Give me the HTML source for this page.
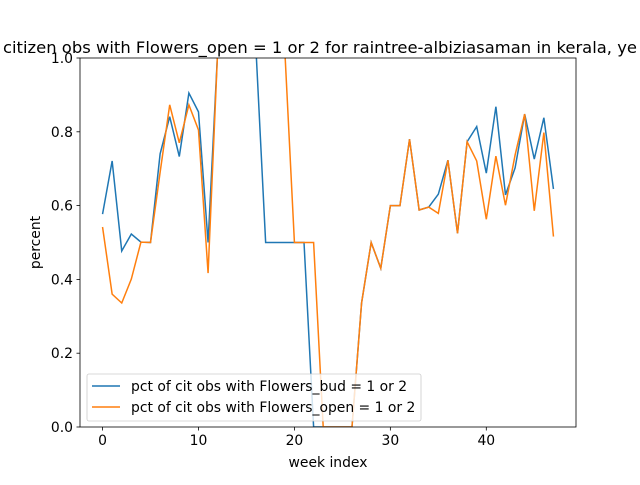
<!DOCTYPE html>
<html><head><meta charset="utf-8"><style>
body{margin:0;background:#fff;}
svg{font-family:"DejaVu Sans","Liberation Sans",sans-serif;}
</style></head><body>
<svg id="chart" width="640" height="480" viewBox="0 0 640 480">
<rect width="640" height="480" fill="#fff"/>
<text x="3" y="53" font-size="16" textLength="634" lengthAdjust="spacingAndGlyphs">citizen obs with Flowers_open = 1 or 2 for raintree-albiziasaman in kerala, ye</text>
<g id="plot"></g>
</svg>
<script>
const weeks = Array.from({length:48},(_, i)=>i);
const budPct = [0.577,0.721,0.477,0.523,0.501,0.5,0.74,0.841,0.733,0.905,0.854,0.5,1.02,1.2,1.2,1.2,1.02,0.5,0.5,0.5,0.5,0.5,0,0,0,0,0,0.336,0.5,0.43,0.6,0.6,0.78,0.588,0.596,0.631,0.723,0.525,0.773,0.814,0.688,0.868,0.629,0.702,0.848,0.726,0.838,0.645];
const openPct = [0.542,0.36,0.336,0.401,0.501,0.5,0.69,0.873,0.77,0.873,0.805,0.417,1.02,1.2,1.2,1.2,1.2,1.2,1.2,1.02,0.5,0.5,0.5,0,0,0,0,0.336,0.5,0.43,0.6,0.6,0.78,0.588,0.596,0.579,0.723,0.525,0.773,0.721,0.563,0.734,0.601,0.737,0.848,0.586,0.798,0.516];
const xTicks = [0,10,20,30,40];
const yTicks = [0,0.2,0.4,0.6,0.8,1.0];
const yTickLabels = ["0.0","0.2","0.4","0.6","0.8","1.0"];

const L=80,R=576,T=58,B=427, xMin=-2.35, xMax=49.35;
const xs=v=>L+(v-xMin)/(xMax-xMin)*(R-L);
const ys=v=>B-v*(B-T);
const NS="http://www.w3.org/2000/svg";
const g=document.getElementById('plot');
function mk(tag,attrs,parent){const e=document.createElementNS(NS,tag);for(const k in attrs)e.setAttribute(k,attrs[k]);(parent||g).appendChild(e);return e;}

const defs=mk('defs',{});
const cp=mk('clipPath',{id:'clip'},defs);
mk('rect',{x:L,y:T,width:R-L,height:B-T},cp);

function series(vals,color,name){
  const p=mk('polyline',{points:vals.map((v,i)=>xs(weeks[i])+','+ys(v)).join(' '),fill:'none',stroke:color,'stroke-width':1.5,'clip-path':'url(#clip)'});
  
  
}
series(budPct,'#1f77b4','flowers-bud-line');
series(openPct,'#ff7f0e','flowers-open-line');

const frame=mk('rect',{x:L,y:T,width:R-L,height:B-T,fill:'none',stroke:'#000','stroke-width':0.8});



xTicks.forEach(t=>{
  const x=xs(t);
  mk('line',{x1:x,x2:x,y1:B,y2:B+3.5,stroke:'#000','stroke-width':0.8});
  const tx=mk('text',{x:x,y:B+18,'font-size':13.9,'text-anchor':'middle'});
  tx.textContent=t;
  
  
});
yTicks.forEach((t,i)=>{
  const y=ys(t);
  mk('line',{x1:L-3.5,x2:L,y1:y,y2:y,stroke:'#000','stroke-width':0.8});
  const tx=mk('text',{x:L-7,y:y+5,'font-size':13.9,'text-anchor':'end'});
  tx.textContent=yTickLabels[i];
  
  
});
const xl=mk('text',{x:(L+R)/2,y:467,'font-size':13.9,'text-anchor':'middle'});
xl.textContent='week index';


const yl=mk('text',{x:40,y:(T+B)/2,'font-size':13.9,'text-anchor':'middle',transform:'rotate(-90 40 '+((T+B)/2)+')'});
yl.textContent='percent';



const lg=mk('g',{});


mk('rect',{x:87,y:374,width:334,height:47,rx:2,fill:'#fff','fill-opacity':0.8,stroke:'#ccc','stroke-width':0.8},lg);
[['pct of cit obs with Flowers_bud = 1 or 2','#1f77b4'],['pct of cit obs with Flowers_open = 1 or 2','#ff7f0e']].forEach((e,i)=>{
  const y=386+i*21;
  const en=mk('g',{},lg);
  
  
  mk('line',{x1:92,x2:120,y1:y,y2:y,stroke:e[1],'stroke-width':1.5},en);
  const t=mk('text',{x:131,y:y+5,'font-size':13.9},en);
  t.textContent=e[0];
});
</script>
</body></html>
